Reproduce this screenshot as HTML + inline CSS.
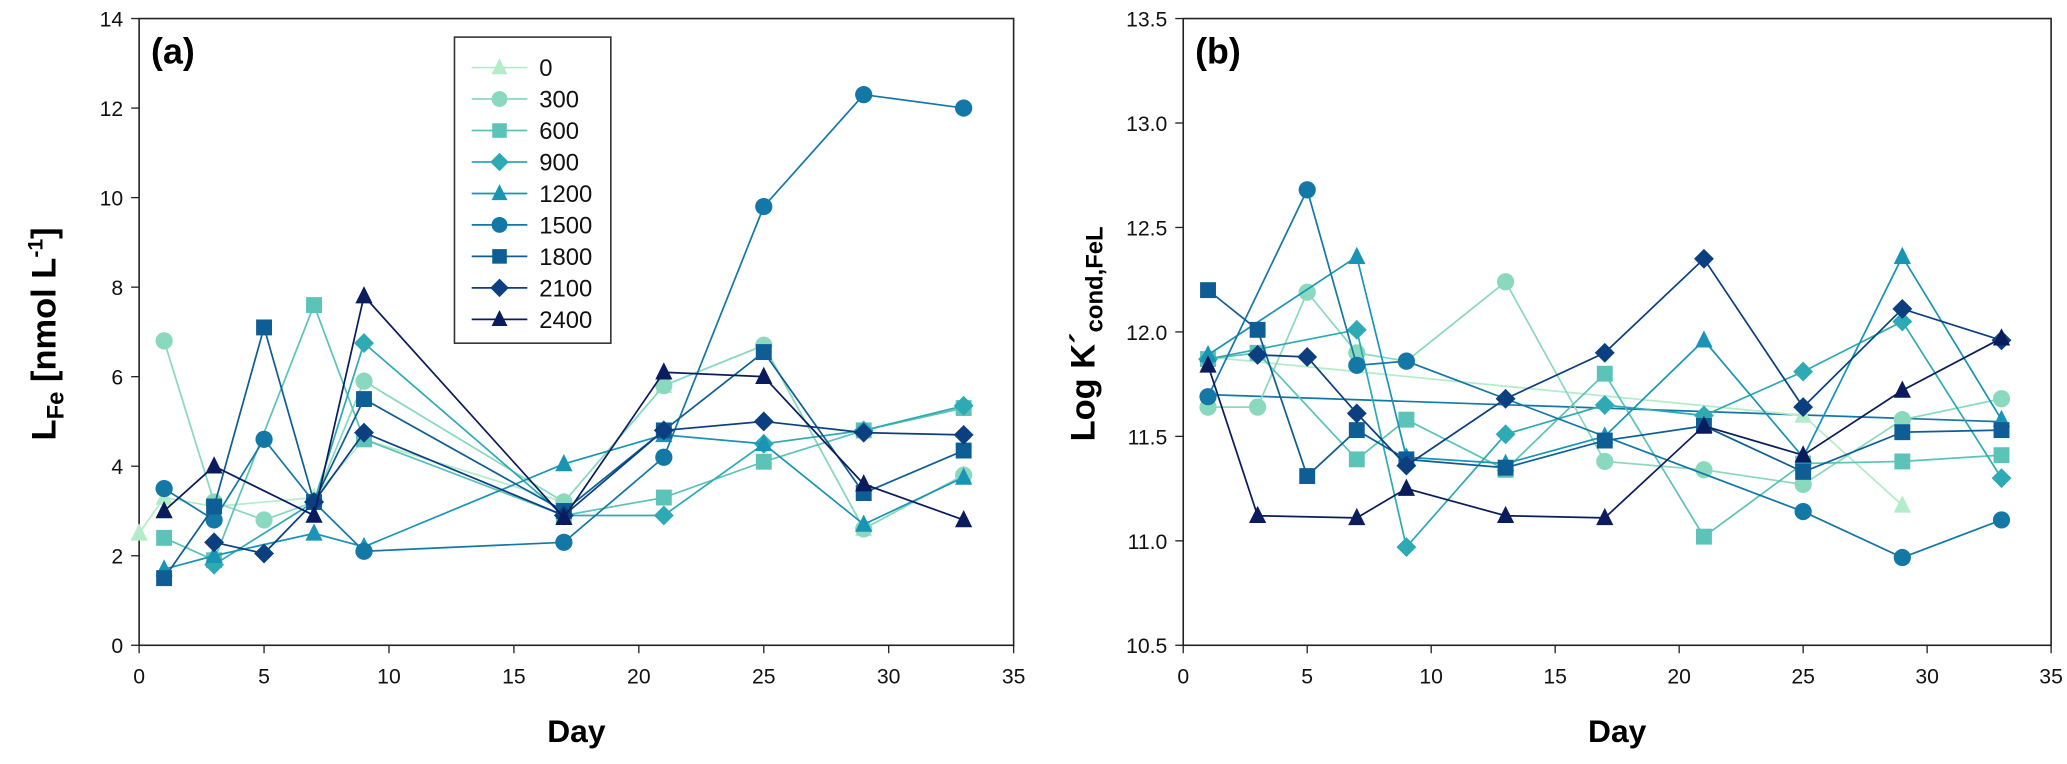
<!DOCTYPE html>
<html><head><meta charset="utf-8"><style>
html,body{margin:0;padding:0;background:#fff;}
svg{display:block;font-family:"Liberation Sans",Arial,sans-serif;}
</style></head><body>
<svg id="chart" width="2067" height="764" viewBox="0 0 1560 576.6" preserveAspectRatio="none" xmlns="http://www.w3.org/2000/svg">
<g id="g"></g>
</svg>
<script>
const series = ['0','300','600','900','1200','1500','1800','2100','2400'];
const colors = ['#b3ecc9','#8ad9bf','#5bc3b7','#2eaab4','#1994b5','#1478a6','#0e5e95','#0b3f80','#0a1c5c'];
const shapes = ['tri','circ','sq','dia','tri','circ','sq','dia','tri'];
const daysA = [
 [0,1,3,7,9,17,21,25,29,33],
 [1,3,5,7,9,17,21,25,29,33],
 [1,3,7,9,17,21,25,29,33],
 [3,7,9,17,21,25,29,33],
 [1,3,7,9,17,21,25,29,33],
 [1,3,5,7,9,17,21,25,29,33],
 [1,3,5,7,9,17,21,25,29,33],
 [3,5,7,9,17,21,25,29,33],
 [1,3,7,9,17,21,25,29,33]
];
const valsA = [
 [2.5,3.3,3.1,3.3,4.6,3.2,5.8,6.7,2.6,3.8],
 [6.8,3.2,2.8,3.2,5.9,3.2,5.8,6.7,2.6,3.8],
 [2.4,1.9,7.6,4.6,2.9,3.3,4.1,4.8,5.3],
 [1.8,3.2,6.75,2.9,2.9,4.5,4.8,5.35],
 [1.7,2.0,2.5,2.2,4.05,4.7,4.5,2.7,3.75],
 [3.5,2.8,4.6,3.2,2.1,2.3,4.2,9.8,12.3,12.0],
 [1.5,3.1,7.1,3.2,5.5,3.0,4.8,6.55,3.4,4.35],
 [2.3,2.05,3.2,4.75,2.9,4.8,5.0,4.75,4.7],
 [3.0,4.0,2.9,7.8,2.85,6.1,6.0,3.6,2.8]
];
const daysB = [
 [1,25,29],
 [1,3,5,7,9,13,17,21,25,29,33],
 [1,3,7,9,13,17,21,25,29,33],
 [1,7,9,13,17,21,25,29,33],
 [1,7,9,13,17,21,25,29,33],
 [1,5,7,9,25,29,33],
 [1,3,5,7,9,13,17,21,25,29,33],
 [3,5,7,9,13,17,21,25,29,33],
 [1,3,7,9,13,17,21,25,29,33]
];
const valsB = [
 [11.88,11.6,11.17],
 [11.64,11.64,12.19,11.9,11.86,12.24,11.38,11.34,11.27,11.58,11.68],
 [11.87,11.9,11.39,11.58,11.34,11.8,11.02,11.37,11.38,11.41],
 [11.87,12.01,10.97,11.51,11.65,11.6,11.81,12.05,11.3],
 [11.89,12.36,11.4,11.37,11.5,11.96,11.4,12.36,11.58],
 [11.69,12.68,11.84,11.86,11.14,10.92,11.1],
 [12.2,12.01,11.31,11.53,11.39,11.35,11.48,11.55,11.33,11.52,11.53],
 [11.89,11.88,11.61,11.36,11.68,11.9,12.35,11.64,12.11,11.96],
 [11.84,11.12,11.11,11.25,11.12,11.11,11.55,11.41,11.72,11.97]
];
const extraDaysB = [1,33];
const extraValsB = [11.70,11.57];
const ticksA = [0,2,4,6,8,10,12,14];
const ticksB = ['10.5','11.0','11.5','12.0','12.5','13.0','13.5'];
const ticksX = [0,5,10,15,20,25,30,35];

const NS='http://www.w3.org/2000/svg';
const G=document.getElementById('g');
function el(tag,attrs,parent){const e=document.createElementNS(NS,tag);for(const k in attrs)e.setAttribute(k,attrs[k]);(parent||G).appendChild(e);return e;}

const panels=[
 {x0:105,x1:765,y0:487,y1:14,ymin:0,ymax:14,ticks:ticksA,days:daysA,vals:valsA,id:'a'},
 {x0:893,x1:1548,y0:487,y1:14,ymin:10.5,ymax:13.5,ticks:ticksB,days:daysB,vals:valsB,id:'b'}
];

function marker(shape,cx,cy,c,g,s){
 s=s||6.5;let m;
 if(shape==='circ')m=el('circle',{cx:cx,cy:cy,r:s,fill:c},g);
 else if(shape==='sq')m=el('rect',{x:cx-s+0.5,y:cy-s+0.5,width:2*s-1,height:2*s-1,fill:c},g);
 else if(shape==='dia')m=el('polygon',{points:`${cx},${cy-s-1} ${cx+s+1},${cy} ${cx},${cy+s+1} ${cx-s-1},${cy}`,fill:c},g);
 else m=el('polygon',{points:`${cx},${cy-s-1} ${cx+s},${cy+s-1} ${cx-s},${cy+s-1}`,fill:c},g);
 return m;
}

panels.forEach(p=>{
 const sx=d=>p.x0+(d/35)*(p.x1-p.x0);
 const sy=v=>p.y0+(v-p.ymin)/(p.ymax-p.ymin)*(p.y1-p.y0);
 const pg=el('g',{});
 
 
 const frame=el('rect',{x:p.x0,y:p.y1,width:p.x1-p.x0,height:p.y0-p.y1,fill:'none',stroke:'#222','stroke-width':1.2},pg);
 
 
 ticksX.forEach(t=>{
  el('line',{x1:sx(t),x2:sx(t),y1:p.y0,y2:p.y0+6,stroke:'#222','stroke-width':1},pg);
  const tx=el('text',{x:sx(t),y:p.y0+29,'font-size':16,'text-anchor':'middle',fill:'#111'},pg);
  tx.textContent=t;
  
  
 });
 p.ticks.forEach(t=>{
  const v=parseFloat(t);
  el('line',{x1:p.x0-6,x2:p.x0,y1:sy(v),y2:sy(v),stroke:'#222','stroke-width':1},pg);
  const tx=el('text',{x:p.x0-12,y:sy(v)+6,'font-size':16,'text-anchor':'end',fill:'#111'},pg);
  tx.textContent=t;
  
  
 });
 const xt=el('text',{x:(p.x0+p.x1)/2,y:560,'font-size':24,'font-weight':'bold','text-anchor':'middle'},pg);
 xt.textContent='Day';
 
 
 const lab=el('text',{x:p.x0+9,y:48,'font-size':27,'font-weight':'bold'},pg);
 lab.textContent='('+p.id+')';
 
 
 if(p.id==='b'){
  const ex=el('polyline',{points:extraDaysB.map((d,j)=>sx(d)+','+sy(extraValsB[j])).join(' '),fill:'none',stroke:colors[5],'stroke-width':1.3},pg);
  
  
 }
 series.forEach((s,i)=>{
  const sg=el('g',{},pg);
  
  
  const pts=p.days[i].map((d,j)=>sx(d)+','+sy(p.vals[i][j])).join(' ');
  el('polyline',{points:pts,fill:'none',stroke:colors[i],'stroke-width':1.3},sg);
  p.days[i].forEach((d,j)=>{
   const m=marker(shapes[i],sx(d),sy(p.vals[i][j]),colors[i],sg);
   
   
  });
 });
});

const ya=el('text',{transform:'translate(42,252) rotate(-90)','font-size':26,'font-weight':'bold','text-anchor':'middle'});


ya.innerHTML='L<tspan font-size="18" dy="6">Fe</tspan><tspan dy="-6"> [nmol L</tspan><tspan font-size="16" dy="-10">-1</tspan><tspan dy="10">]</tspan>';
const yb=el('text',{transform:'translate(826,252) rotate(-90)','font-size':26,'font-weight':'bold','text-anchor':'middle'});


yb.innerHTML='Log K´<tspan font-size="18" dy="6">cond,FeL</tspan>';

const lg=el('g',{});


el('rect',{x:343,y:28,width:118,height:231,fill:'#fff',stroke:'#333','stroke-width':1.2},lg);
series.forEach((s,i)=>{
 const y=51+23.75*i;
 const eg=el('g',{},lg);
 
 
 el('line',{x1:356,x2:398,y1:y,y2:y,stroke:colors[i],'stroke-width':1.3},eg);
 marker(shapes[i],377,y,colors[i],eg,6);
 const t=el('text',{x:407,y:y+6.5,'font-size':18,fill:'#111'},eg);
 t.textContent=s;
});
</script>
</body></html>
